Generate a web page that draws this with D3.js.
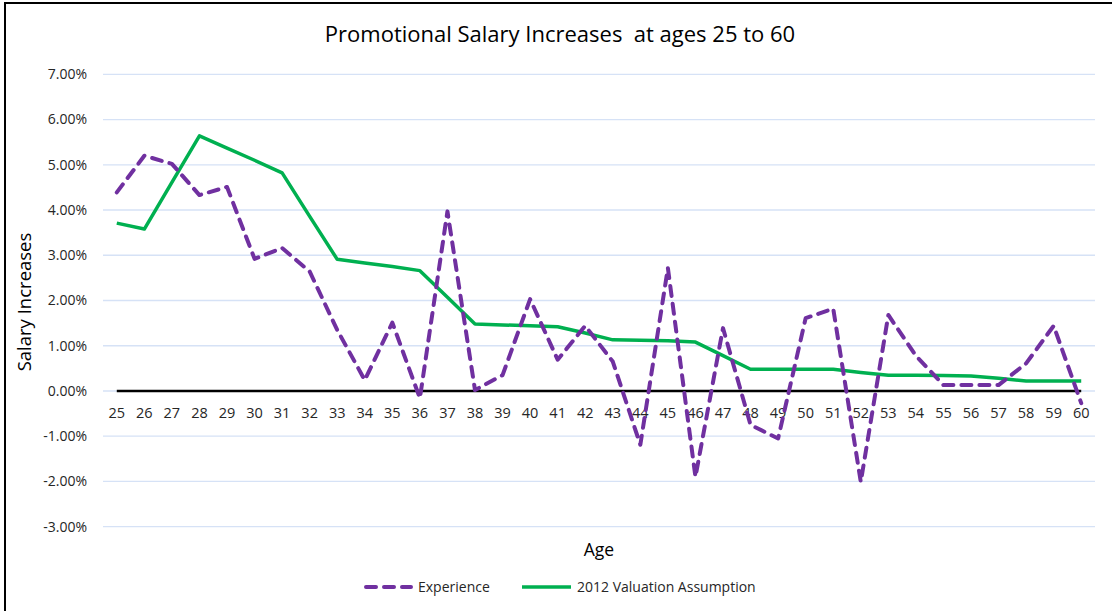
<!DOCTYPE html>
<html>
<head>
<meta charset="utf-8">
<script src="https://cdn.jsdelivr.net/npm/d3@7"></script>
<style>
body { margin: 0; background: #fff; }
text { font-family: "Open Sans", "Noto Sans", sans-serif; fill: #262626; }
</style>
</head>
<body>
<script>
var w = 1112;
var h = 611;

var ages = [25,26,27,28,29,30,31,32,33,34,35,36,37,38,39,40,41,42,43,44,45,46,47,48,49,50,51,52,53,54,55,56,57,58,59,60];
var experience = [4.39,5.20,5.02,4.33,4.51,2.92,3.16,2.64,1.35,0.24,1.51,-0.16,3.97,0.02,0.35,2.03,0.69,1.44,0.65,-1.19,2.72,-1.90,1.39,-0.75,-1.05,1.61,1.82,-2.01,1.68,0.78,0.13,0.13,0.13,0.61,1.44,-0.27];
var valuation = [3.71,3.58,4.61,5.64,5.37,5.10,4.82,3.86,2.91,2.83,2.75,2.66,2.07,1.48,1.46,1.44,1.42,1.28,1.13,1.12,1.11,1.08,0.78,0.48,0.48,0.48,0.48,0.41,0.35,0.35,0.34,0.33,0.28,0.22,0.22,0.22];
var yTicks = [-3,-2,-1,0,1,2,3,4,5,6,7];

var svg = d3.select("body")
	.append("svg")
	.attr("width", w)
	.attr("height", h);

// chart border (top + left only visible)
svg.append("rect")
	.attr("x", 5)
	.attr("y", 3)
	.attr("width", w + 10)
	.attr("height", h + 10)
	.attr("fill", "none")
	.attr("stroke", "#000")
	.attr("stroke-width", 2);

var plotLeft = 103, plotRight = 1095, plotTop = 74.3, plotBottom = 526.7;

var x = d3.scalePoint()
	.domain(ages)
	.range([plotLeft, plotRight])
	.padding(0.5);

var y = d3.scaleLinear()
	.domain([-3, 7])
	.range([plotBottom, plotTop]);

// gridlines
svg.selectAll("line.grid")
	.data(yTicks)
	.enter()
	.append("line")
	.attr("class", "grid")
	.attr("x1", plotLeft)
	.attr("x2", plotRight)
	.attr("y1", function(d){ return y(d); })
	.attr("y2", function(d){ return y(d); })
	.attr("stroke", "#d6e2f6")
	.attr("stroke-width", 1.3);

// y tick labels
svg.selectAll("text.ytick")
	.data(yTicks)
	.enter()
	.append("text")
	.attr("class", "ytick")
	.attr("x", 87)
	.attr("y", function(d){ return y(d); })
	.attr("dy", "0.35em")
	.attr("text-anchor", "end")
	.style("font-size", "14px")
	.text(function(d){ return d.toFixed(2) + "%"; });

// zero line
svg.append("line")
	.attr("x1", x(ages[0]))
	.attr("x2", x(ages[ages.length - 1]))
	.attr("y1", y(0))
	.attr("y2", y(0))
	.attr("stroke", "#000")
	.attr("stroke-width", 2.5);

// x tick labels
svg.selectAll("text.xtick")
	.data(ages)
	.enter()
	.append("text")
	.attr("class", "xtick")
	.attr("x", function(d){ return x(d); })
	.attr("y", 418)
	.attr("text-anchor", "middle")
	.style("font-size", "14.5px")
	.text(function(d){ return d; });

var line = d3.line()
	.x(function(d, i){ return x(ages[i]); })
	.y(function(d){ return y(d); });

svg.append("path")
	.datum(valuation)
	.attr("d", line)
	.attr("fill", "none")
	.attr("stroke", "#00b050")
	.attr("stroke-width", 3.5)
	.attr("stroke-linejoin", "round");

svg.append("path")
	.datum(experience)
	.attr("d", line)
	.attr("fill", "none")
	.attr("stroke", "#7030a0")
	.attr("stroke-width", 4)
	.attr("stroke-linecap", "round")
	.attr("stroke-linejoin", "round")
	.attr("stroke-dasharray", "10,8");

// title
svg.append("text")
	.attr("x", 560)
	.attr("y", 42)
	.attr("text-anchor", "middle")
	.style("font-size", "22px")
	.style("fill", "#000")
	.style("white-space", "pre")
	.text("Promotional Salary Increases  at ages 25 to 60");

// axis titles
svg.append("text")
	.attr("x", 599)
	.attr("y", 556)
	.attr("text-anchor", "middle")
	.style("font-size", "17.5px")
	.style("fill", "#000")
	.text("Age");

svg.append("text")
	.attr("transform", "translate(31,302) rotate(-90)")
	.attr("text-anchor", "middle")
	.style("font-size", "18.5px")
	.style("fill", "#000")
	.text("Salary Increases");

// legend
var legend = [
	{name: "Experience", color: "#7030a0", dash: "10,8", x1: 366, x2: 411, tx: 418},
	{name: "2012 Valuation Assumption", color: "#00b050", dash: null, x1: 522, x2: 571, tx: 577}
];
var lg = svg.selectAll("g.legend")
	.data(legend)
	.enter()
	.append("g")
	.attr("class", "legend");
lg.append("line")
	.attr("x1", function(d){ return d.x1; })
	.attr("x2", function(d){ return d.x2; })
	.attr("y1", 587)
	.attr("y2", 587)
	.attr("stroke", function(d){ return d.color; })
	.attr("stroke-width", function(d){ return d.dash ? 4 : 3.5; })
	.attr("stroke-linecap", function(d){ return d.dash ? "round" : "butt"; })
	.attr("stroke-dasharray", function(d){ return d.dash; });
lg.append("text")
	.attr("x", function(d){ return d.tx; })
	.attr("y", 587)
	.attr("dy", "0.35em")
	.style("font-size", "14px")
	.text(function(d){ return d.name; });
</script>
</body>
</html>
